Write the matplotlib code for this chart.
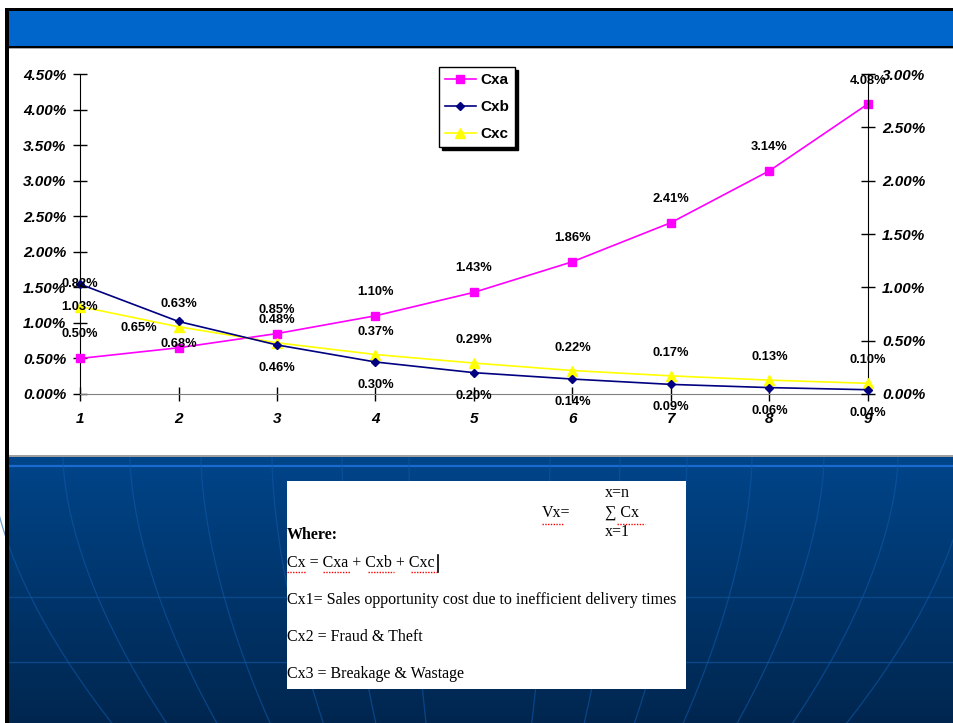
import numpy as np
import matplotlib
matplotlib.use('Agg')
import matplotlib.pyplot as plt
from matplotlib.patches import Rectangle
from matplotlib.ticker import FuncFormatter, MultipleLocator

# data (percent)
periods = [1, 2, 3, 4, 5, 6, 7, 8, 9]
cxa = [0.50, 0.65, 0.85, 1.10, 1.43, 1.86, 2.41, 3.14, 4.08]
cxb = [1.03, 0.68, 0.46, 0.30, 0.20, 0.14, 0.09, 0.06, 0.04]
cxc = [0.82, 0.63, 0.48, 0.37, 0.29, 0.22, 0.17, 0.13, 0.10]

# label offsets in pixels (dx, dy)
cxa_off = [(0, 24), (-40, 20), (0, 24), (0, 24), (0, 24), (0, 24), (0, 24), (0, 24), (0, 23)]
cxb_off = [(0, -23)] * 9
cxc_off = [(0, 23)] * 9

W, H = 954, 723
fig = plt.figure(figsize=(W / 100, H / 100), dpi=100)

# ---- slide background, drawn in pixel coords
bg = fig.add_axes([0, 0, 1, 1])
bg.set_xlim(0, W)
bg.set_ylim(H, 0)
bg.axis('off')
bg.set_zorder(0)

def box(x0, y0, x1, y1, **kw):
    bg.add_patch(Rectangle((x0, y0), x1 - x0, y1 - y0, lw=0, **kw))

# blue gradient lower part
grad = np.linspace(0, 1, 256).reshape(-1, 1)
top_c = np.array([0.0, 0.27, 0.54])
bot_c = np.array([0.0, 0.15, 0.31])
img = top_c + (bot_c - top_c) * grad[..., None]
bg.imshow(img, extent=(9, W, H, 457), aspect='auto', zorder=1)

# grid lines on the blue background
for yy, c, lw in [(466, '#1a6ad0', 1.6), (597, '#0c4888', 1.0), (662, '#0c4888', 1.0)]:
    bg.plot([9, W], [yy, yy], color=c, lw=lw, zorder=2)
cx = 477
tt = np.linspace(0, 1, 40)
for x0 in [-10, 63, 130, 201, 272, 342, 409, 550, 620, 687, 752, 824, 898, 970]:
    xs = cx + (x0 - cx) * (1 - 0.25 * tt ** 1.7)
    ys = 457 + tt * (H - 457)
    bg.plot(xs, ys, color='#0f58a8', lw=0.9, alpha=0.6, zorder=2)
bg.set_xlim(0, W)

box(0, 0, W, H, color='white', zorder=0.5)
box(5, 8, W, 11, color='black', zorder=3)
box(9, 11, W, 46, color='#0066cc', zorder=3)
box(9, 46, W, 47.5, color='black', zorder=3)
box(9, 47.5, W, 49, color='#a8a8a8', zorder=3)
box(9, 455, W, 457, color='#a0a0a0', zorder=3)
box(5, 8, 9, H, color='black', zorder=4)

# text box
box(287, 481, 686, 689, color='white', zorder=5)
serif = 'Liberation Serif'
tk = dict(family=serif, fontsize=11.5, color='black', va='center', ha='left', zorder=6)
bg.text(605, 493, 'x=n', **tk)
bg.text(542, 513, 'Vx=', **tk)
bg.text(605, 513, '\u2211 Cx', **tk)
bg.text(605, 532, 'x=1', **tk)
bg.text(287, 535, 'Where:', fontweight='bold', **tk)
bg.text(287, 563, 'Cx = Cxa + Cxb + Cxc', **tk)
bg.text(287, 600, 'Cx1= Sales opportunity cost due to inefficient delivery times', **tk)
bg.text(287, 637, 'Cx2 = Fraud & Theft', **tk)
bg.text(287, 674, 'Cx3 = Breakage & Wastage', **tk)
for x0, x1, yy in [(542, 563, 524), (617, 645, 524), (287, 306, 572),
                   (323, 350, 572), (368, 394, 572), (411, 437, 572)]:
    bg.plot([x0, x1], [yy, yy], color='red', lw=1, ls=(0, (1, 1)), zorder=6)
bg.plot([438, 438], [555, 572], color='black', lw=1.2, zorder=6)

# ---- chart
ax = fig.add_axes([80 / W, 1 - 394 / H, (868 - 80) / W, (394 - 74) / H])
ax.set_zorder(2)
ax.patch.set_visible(False)
ax2 = ax.twinx()
ax2.set_zorder(3)

sans = 'Liberation Sans'
pct = FuncFormatter(lambda v, p: '%.2f%%' % v)

la, = ax.plot(periods, cxa, color='#ff00ff', lw=1.2, marker='s', ms=5.5, label='Cxa', clip_on=False, zorder=4)
lb, = ax2.plot(periods, cxb, color='#000080', lw=1.2, marker='D', ms=4.5, label='Cxb', clip_on=False, zorder=4)
lc, = ax2.plot(periods, cxc, color='#ffff00', lw=1.2, marker='^', ms=6.5, label='Cxc', clip_on=False, zorder=3)

ax.set_xlim(1, 9)
ax.set_ylim(0, 4.5)
ax2.set_ylim(0, 3.0)
ax.yaxis.set_major_locator(MultipleLocator(0.5))
ax2.yaxis.set_major_locator(MultipleLocator(0.5))
ax.yaxis.set_major_formatter(pct)
ax2.yaxis.set_major_formatter(pct)
ax.set_xticks(periods)

for a in (ax, ax2):
    a.spines['top'].set_visible(False)
    a.tick_params(direction='inout', length=10, width=1, colors='black')
    for lab in a.get_yticklabels() + a.get_xticklabels():
        lab.set_family(sans)
        lab.set_fontweight('bold')
        lab.set_fontstyle('italic')
        lab.set_fontsize(11)
ax.tick_params(axis='y', pad=5)
ax2.tick_params(axis='y', pad=5)
ax.tick_params(axis='x', pad=8)
ax.spines['bottom'].set_color('#808080')
ax2.spines['bottom'].set_visible(False)
ax.spines['right'].set_visible(False)
ax2.spines['left'].set_visible(False)
ax.spines['left'].set_color('black')
ax2.spines['right'].set_color('black')

lk = dict(textcoords='offset pixels', ha='center', va='center', family=sans,
          fontweight='bold', fontsize=9.3, color='black', zorder=6, annotation_clip=False)
for x, v, o in zip(periods, cxa, cxa_off):
    ax.annotate('%.2f%%' % v, (x, v), xytext=o, **lk)
for x, v, o in zip(periods, cxb, cxb_off):
    ax2.annotate('%.2f%%' % v, (x, v), xytext=o, **lk)
for x, v, o in zip(periods, cxc, cxc_off):
    ax2.annotate('%.2f%%' % v, (x, v), xytext=o, **lk)

leg = ax2.legend(handles=[la, lb, lc], loc='upper left',
                 bbox_to_anchor=(439 / W, 1 - 67 / H), bbox_transform=fig.transFigure,
                 prop={'family': sans, 'weight': 'bold', 'size': 11},
                 frameon=True, fancybox=False, shadow={'color': 'black', 'alpha': 1},
                 handlelength=2.0, handletextpad=0.3, labelspacing=0.85, borderpad=0.4,
                 borderaxespad=0)
leg.get_frame().set_edgecolor('black')
leg.get_frame().set_linewidth(1)

fig.savefig('out.png', dpi=100)
